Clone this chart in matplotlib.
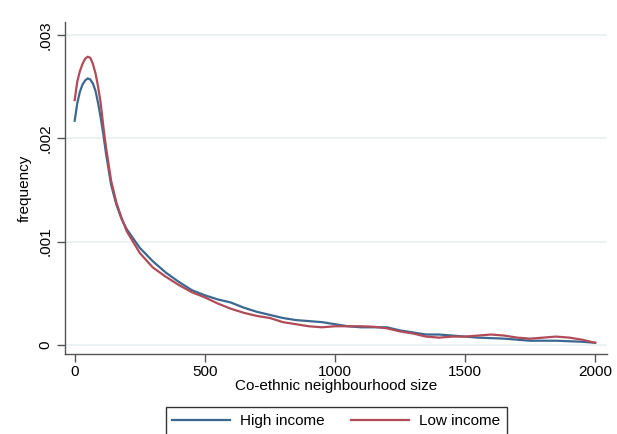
import matplotlib
matplotlib.use("Agg")
import matplotlib.pyplot as plt
from matplotlib.ticker import FixedLocator

plt.rcParams['font.family'] = ['Liberation Sans', 'DejaVu Sans']

# kernel density estimates of co-ethnic neighbourhood size, by income group
size = [0, 10, 20, 30, 40, 50, 60, 70, 80, 90, 100, 110, 120, 140, 160, 180,
        200, 250, 300, 350, 400, 450, 500, 550, 600, 650, 700, 750, 800, 850,
        900, 950, 1000, 1050, 1100, 1150, 1200, 1250, 1300, 1350, 1400,
        1450, 1500, 1550, 1600, 1650, 1700, 1750, 1800, 1850, 1900, 1950, 2000]

high_income = [0.00217, 0.00234, 0.00245, 0.00252, 0.00256, 0.00258, 0.00257,
               0.00253, 0.00246, 0.00234, 0.00220, 0.00204, 0.00186, 0.00155,
               0.00136, 0.00122, 0.00112, 0.00094, 0.00081, 0.00070, 0.00061,
               0.00053, 0.00048, 0.00044, 0.00041, 0.00036, 0.00032, 0.00029,
               0.00026, 0.00024, 0.00023, 0.00022, 0.00020, 0.00018, 0.00017,
               0.00017, 0.00017, 0.00014, 0.00012, 0.00010, 0.00010, 0.00009,
               0.00008, 0.00007, 0.000065, 0.00006, 0.00005, 0.00004, 0.00004,
               0.00004, 0.000035, 0.00003, 0.00002]

low_income = [0.00237, 0.00255, 0.00265, 0.00272, 0.00277, 0.00279, 0.00278,
              0.00272, 0.00263, 0.00250, 0.00234, 0.00212, 0.00192, 0.00159,
              0.00138, 0.00123, 0.00110, 0.00089, 0.00075, 0.00066, 0.00058,
              0.00051, 0.00046, 0.00040, 0.00035, 0.00031, 0.00028, 0.00026,
              0.00022, 0.00020, 0.00018, 0.00017, 0.00018, 0.00018, 0.00018,
              0.000175, 0.00016, 0.00013, 0.00011, 0.00008, 0.00007, 0.00008,
              0.00008, 0.00009, 0.00010, 0.00009, 0.00007, 0.00006, 0.00007,
              0.00008, 0.00007, 0.00005, 0.00002]

x_ticks = [0, 500, 1000, 1500, 2000]
y_ticks = [0, 0.001, 0.002, 0.003]
y_tick_labels = ['0', '.001', '.002', '.003']

fig = plt.figure(figsize=(6.17, 4.34), dpi=100)
ax = fig.add_axes([0.105, 0.184, 0.879, 0.765])

ax.plot(size, high_income, color='#3b6890', linewidth=1.6, label='High income')
ax.plot(size, low_income, color='#b14b58', linewidth=1.6, label='Low income')

ax.set_xlim(-38, 2046)
ax.set_ylim(-0.000090, 0.003125)

ax.xaxis.set_major_locator(FixedLocator(x_ticks))
ax.yaxis.set_major_locator(FixedLocator(y_ticks))
ax.set_yticklabels(y_tick_labels, rotation=90, va='center')

ax.grid(axis='y', color='#e8f0f1', linewidth=1.2)
ax.set_axisbelow(True)

for side in ('top', 'right'):
    ax.spines[side].set_visible(False)
for side in ('left', 'bottom'):
    ax.spines[side].set_color('#555555')
    ax.spines[side].set_linewidth(1.0)

ax.tick_params(axis='both', colors='#555555', labelcolor='black',
               labelsize=11, length=6, width=1.0)
ax.tick_params(axis='x', pad=2)
ax.tick_params(axis='y', pad=3)

ax.set_xlabel('Co-ethnic neighbourhood size', fontsize=11, labelpad=0)
ax.set_ylabel('frequency', fontsize=11, labelpad=5)

fig.legend(loc='upper center', bbox_to_anchor=(0.545, 0.079), ncol=2,
           fontsize=11, frameon=True, fancybox=False, edgecolor='#333333',
           framealpha=1, handlelength=3.8, columnspacing=1.7,
           borderpad=0.45, handletextpad=0.65)

fig.savefig('out.png', dpi=100, facecolor='white')
